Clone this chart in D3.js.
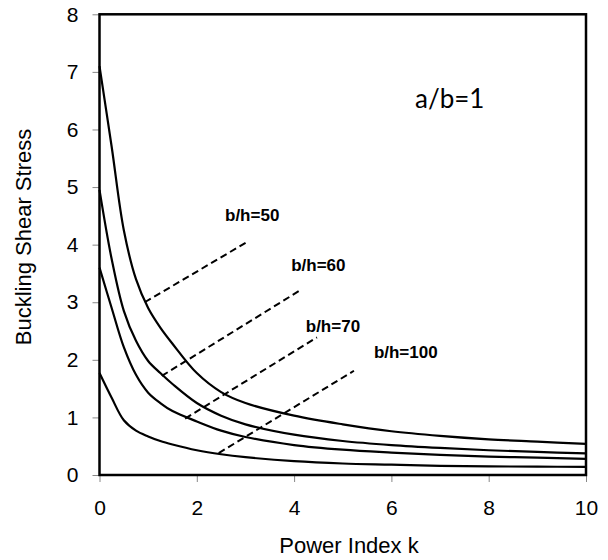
<!DOCTYPE html>
<html>
<head>
<meta charset="utf-8">
<script src="https://cdn.jsdelivr.net/npm/d3@7"></script>
<style>
  body { margin: 0; background: #fff; }
  svg { display: block; }
</style>
</head>
<body>
<div id="chart"></div>
<script>
// power index k (x values shared by all curves)
var kValues = [0, 0.25, 0.5, 0.75, 1, 1.25, 1.5, 2, 2.5, 3, 4, 5, 6, 7, 8, 9, 10];

// buckling shear stress for each b/h
var bh50  = [7.1, 5.7, 4.25, 3.4, 2.9, 2.56, 2.28, 1.77, 1.44, 1.25, 1.03, 0.88, 0.76, 0.68, 0.62, 0.58, 0.54];
var bh60  = [4.95, 3.75, 2.85, 2.33, 1.98, 1.77, 1.58, 1.25, 1.03, 0.88, 0.70, 0.59, 0.52, 0.47, 0.43, 0.40, 0.375];
var bh70  = [3.6, 2.9, 2.22, 1.74, 1.43, 1.25, 1.11, 0.93, 0.77, 0.66, 0.52, 0.44, 0.39, 0.35, 0.32, 0.30, 0.28];
var bh100 = [1.77, 1.34, 0.95, 0.77, 0.67, 0.59, 0.53, 0.43, 0.36, 0.31, 0.24, 0.20, 0.18, 0.16, 0.15, 0.145, 0.14];

// dashed leader lines [k1, v1, k2, v2] and their labels
var leaderNames = ["b/h=50", "b/h=60", "b/h=70", "b/h=100"];
var leaders = [
  [0.93, 3.0, 3.02, 4.04],
  [1.28, 1.72, 4.11, 3.2],
  [1.76, 0.98, 4.47, 2.39],
  [2.45, 0.38, 5.23, 1.81]
];
// label anchor (k, stress) of each name
var labelPos = [[2.58, 4.41], [3.94, 3.54], [4.24, 2.48], [5.64, 2.03]];

var xTicks = [0, 2, 4, 6, 8, 10];
var yTicks = [0, 1, 2, 3, 4, 5, 6, 7, 8];

var width = 608, height = 560;
var margin = {top: 14.3, right: 22, bottom: 85, left: 99.5};

var svg = d3.select("#chart").append("svg")
    .attr("width", width)
    .attr("height", height);

var x = d3.scaleLinear()
    .domain([0, 10])
    .range([margin.left, width - margin.right]);
var y = d3.scaleLinear()
    .domain([0, 8])
    .range([height - margin.bottom, margin.top]);

var font = "'Liberation Sans', Arial, sans-serif";

// axes
var xAxis = svg.append("g")
    .attr("transform", "translate(0," + y(0) + ")")
    .call(d3.axisBottom(x).tickValues(xTicks).tickSize(7).tickPadding(18).tickFormat(d3.format("d")));
var yAxis = svg.append("g")
    .attr("transform", "translate(" + x(0) + ",0)")
    .call(d3.axisLeft(y).tickValues(yTicks).tickSize(7).tickPadding(14).tickFormat(d3.format("d")));

[xAxis, yAxis].forEach(function(g) {
  g.select(".domain").remove();
  g.selectAll(".tick line").attr("stroke", "#888").attr("stroke-width", 1);
  g.selectAll("text")
    .attr("fill", "#000")
    .style("font-family", font)
    .style("font-size", "21px");
});

// curves (smoothed like the original spreadsheet lines)
var line = d3.line()
    .x(function(d) { return x(d[0]); })
    .y(function(d) { return y(d[1]); })
    .curve(d3.curveCatmullRom.alpha(0.5));

[bh50, bh60, bh70, bh100].forEach(function(s) {
  svg.append("path")
    .datum(kValues.map(function(k, i) { return [k, s[i]]; }))
    .attr("fill", "none")
    .attr("stroke", "#000")
    .attr("stroke-width", 2.2)
    .attr("d", line);
});

// dashed leaders
svg.selectAll(".leader")
  .data(leaders)
  .enter().append("line")
    .attr("class", "leader")
    .attr("x1", function(d) { return x(d[0]); })
    .attr("y1", function(d) { return y(d[1]); })
    .attr("x2", function(d) { return x(d[2]); })
    .attr("y2", function(d) { return y(d[3]); })
    .attr("stroke", "#000")
    .attr("stroke-width", 2)
    .attr("stroke-dasharray", "7,4");

svg.selectAll(".bh")
  .data(leaderNames)
  .enter().append("text")
    .attr("class", "bh")
    .attr("x", function(d, i) { return x(labelPos[i][0]); })
    .attr("y", function(d, i) { return y(labelPos[i][1]); })
    .style("font-family", font)
    .style("font-size", "17px")
    .style("font-weight", "bold")
    .text(function(d) { return d; });

// frame
svg.append("rect")
    .attr("x", x(0))
    .attr("y", y(8))
    .attr("width", x(10) - x(0))
    .attr("height", y(0) - y(8))
    .attr("fill", "none")
    .attr("stroke", "#000")
    .attr("stroke-width", 2.5);

svg.append("text")
    .attr("x", 415)
    .attr("y", 108)
    .style("font-family", "Lato, 'Open Sans', sans-serif")
    .style("font-size", "26px")
    .text("a/b=1");

// axis titles
svg.append("text")
    .attr("text-anchor", "middle")
    .attr("x", 349)
    .attr("y", 553)
    .style("font-family", font)
    .style("font-size", "22px")
    .text("Power Index k");

svg.append("text")
    .attr("text-anchor", "middle")
    .attr("transform", "rotate(-90)")
    .attr("x", -237)
    .attr("y", 31)
    .style("font-family", font)
    .style("font-size", "22px")
    .text("Buckling Shear Stress");
</script>
</body>
</html>
